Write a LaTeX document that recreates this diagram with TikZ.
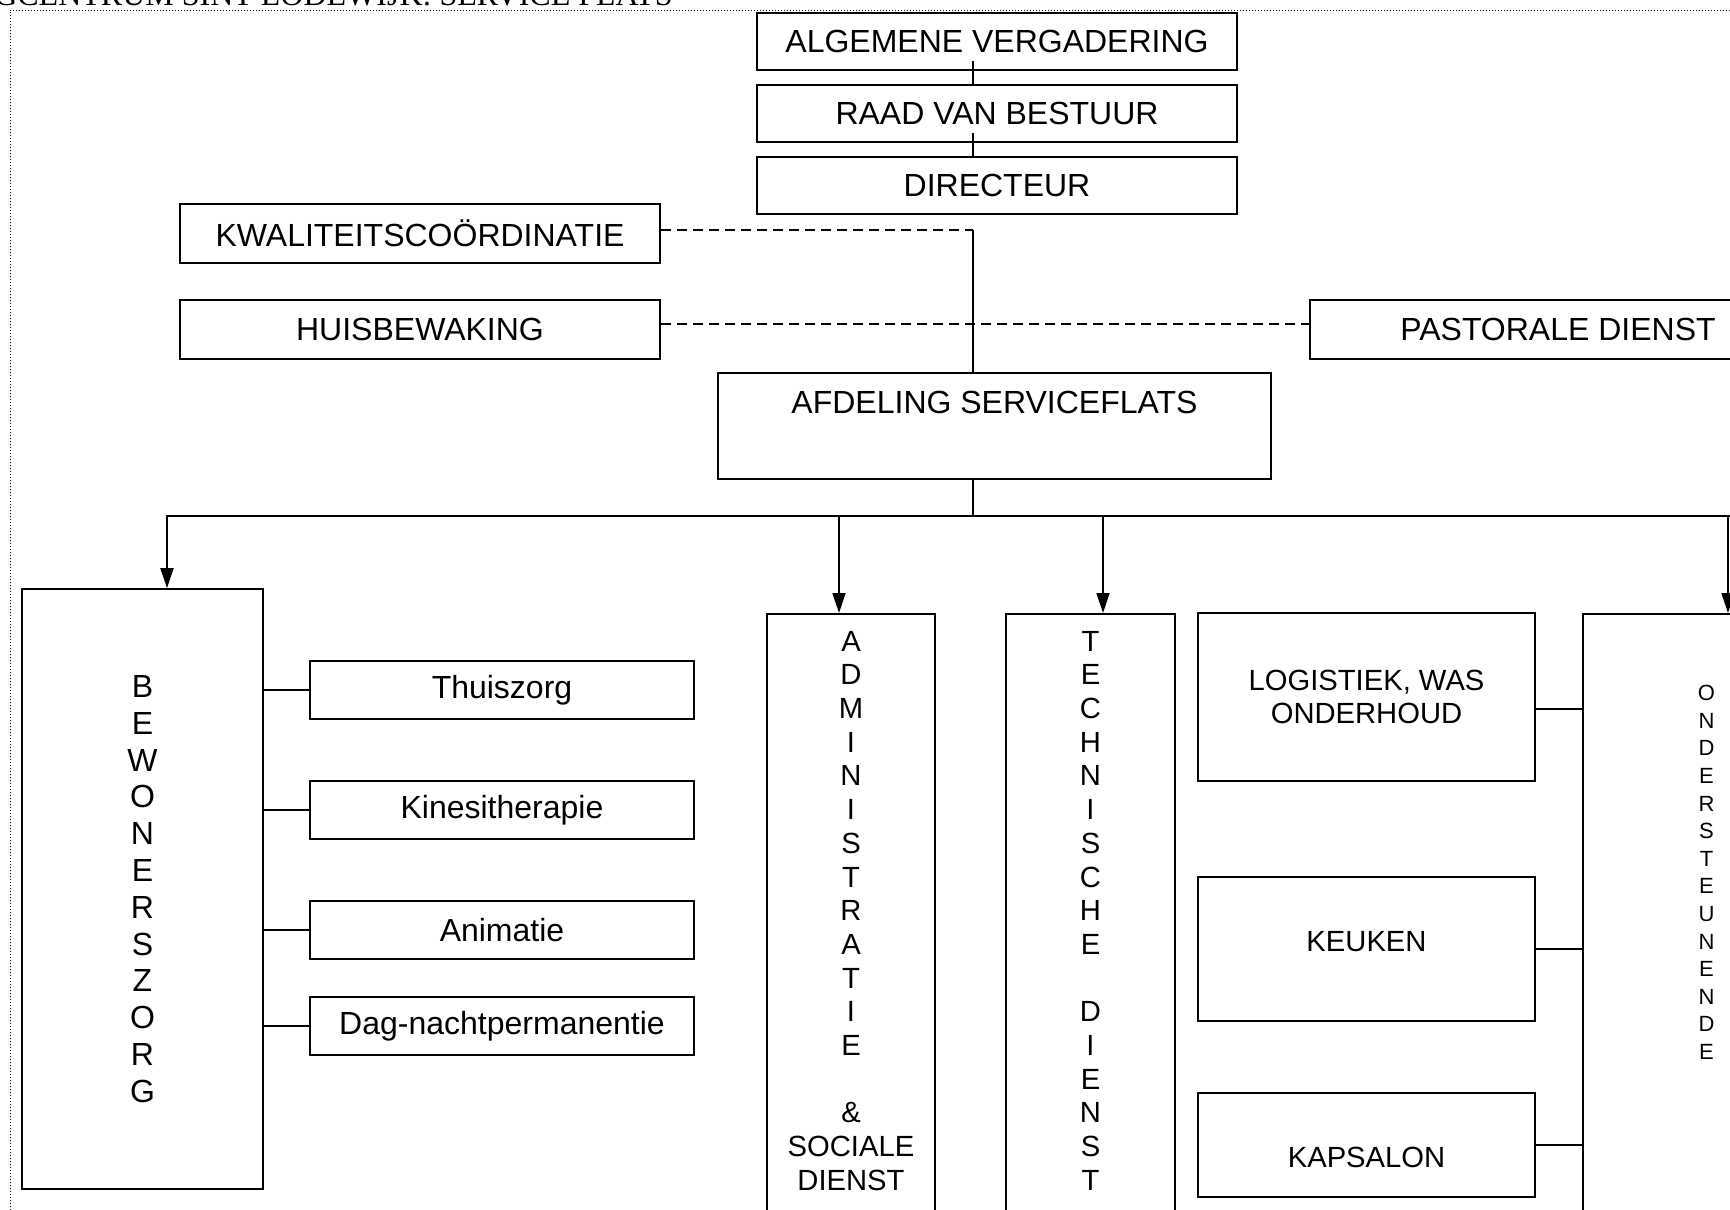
\documentclass[tikz,border=0pt]{standalone}
\usepackage{fontspec}
\setmainfont{Liberation Sans}
\newfontfamily\titlefont{Liberation Serif}
\usetikzlibrary{arrows.meta}

\begin{document}
\begin{tikzpicture}[x=0.5pt, y=-0.5pt,
  box/.style={draw, line width=0.9pt, inner sep=0pt, align=center, font=\fontsize{16}{18.4}\selectfont},
  small/.style={font=\fontsize{14.6}{16.85}\selectfont},
  vtext/.style={anchor=north, align=center, inner sep=0pt},
  link/.style={line width=0.9pt},
  dashlink/.style={line width=1pt, dash pattern=on 5pt off 3pt},
  arr/.style={line width=0.9pt, -{Triangle[length=10pt, width=6.5pt]}},
  frame/.style={line width=0.5pt, dash pattern=on 0.6pt off 0.9pt}]
\useasboundingbox (0, 0) rectangle (1730, 1210);
\clip (0, 0) rectangle (1730, 1210);

% title and frame, cut by the page
\node [anchor=base east, inner sep=0pt, font=\titlefont\fontsize{16}{19}\selectfont] (title) at (673, 5) {WOONZORGCENTRUM SINT LODEWIJK: SERVICE FLATS};
\draw [frame](10, 1210) -- (10, 10) -- (1730, 10);

% top
\node [box, minimum width=240pt, minimum height=28.5pt] (alg) at (997, 41.5) {ALGEMENE VERGADERING};
\node [box, minimum width=240pt, minimum height=28.5pt] (raad) at (997, 113.5) {RAAD VAN BESTUUR};
\node [box, minimum width=240pt, minimum height=28.5pt] (dir) at (997, 185.5) {DIRECTEUR};
\node [box, minimum width=240pt, minimum height=29.5pt] (kwal) at (420, 233.5) {KWALITEITSCOÖRDINATIE};
\node [box, minimum width=240pt, minimum height=29.5pt] (huis) at (420, 329.5) {HUISBEWAKING};
\node [box, minimum width=248pt, minimum height=29.5pt] (past) at (1558, 329.5) {PASTORALE DIENST};
\node [box, minimum width=276.5pt, text height=20.2pt, text depth=32.8pt] (afd) at (994.5, 426) {AFDELING SERVICEFLATS};

\coordinate (spine) at (973, 229.5);
\draw [link](alg.south -| spine) ++(0, -10) -- (raad.north -| spine);
\draw [link](raad.south -| spine) ++(0, -10) -- (dir.north -| spine);
\draw [dashlink](kwal.east |- spine) -- (spine);
\draw [link](spine) -- (afd.north -| spine);
\coordinate (huis-c) at ([yshift=2.75pt]huis.east);
\draw [dashlink](huis-c) -- (huis-c -| past.west);

% departments
\node [box, minimum width=120.5pt, minimum height=300pt] (bew) at (142.5, 889) {B\\E\\W\\O\\N\\E\\R\\S\\Z\\O\\R\\G};
\node [box, anchor=north, minimum width=84pt, minimum height=320pt] (adm) at (851, 613) {};
\node [vtext, small] (adm-t) at ([yshift=-8.8pt]adm.north) {A\\D\\M\\I\\N\\I\\S\\T\\R\\A\\T\\I\\E\\ \\\&\\SOCIALE\\DIENST};
\node [box, anchor=north, minimum width=84.5pt, minimum height=320pt] (tech) at (1090.5, 613) {};
\node [vtext, small] (tech-t) at ([yshift=-8.8pt]tech.north) {T\\E\\C\\H\\N\\I\\S\\C\\H\\E\\ \\D\\I\\E\\N\\S\\T};
\node [box, anchor=north, minimum width=123.5pt, minimum height=320pt] (ond) at (1706.5, 613) {};
\node [vtext, font=\fontsize{11}{13.8}\selectfont] (ond-t) at ([yshift=-36pt]ond.north) {O\\N\\D\\E\\R\\S\\T\\E\\U\\N\\E\\N\\D\\E};

\coordinate (bus) at (973, 516);
\coordinate (bus-bew) at (167, 516);
\coordinate (bus-adm) at (839, 516);
\coordinate (bus-tech) at (1103, 516);
\coordinate (bus-ond) at (1728, 516);
\coordinate (bus-end) at (1730, 516);
\draw [link](afd.south -| spine) -- (bus);
\draw [arr](bus-end) -- (bus-bew) -- (bus-bew |- bew.north);
\draw [arr](bus-adm) -- (bus-adm |- adm.north);
\draw [arr](bus-tech) -- (bus-tech |- tech.north);
\draw [arr](bus-ond) -- (bus-ond |- ond.north);

% bewonerszorg
\node [box, minimum width=192pt, minimum height=29pt] (thuis) at (502, 690) {Thuiszorg};
\node [box, minimum width=192pt, minimum height=29pt] (kine) at (502, 810) {Kinesitherapie};
\node [box, minimum width=192pt, minimum height=29pt] (anim) at (502, 930) {Animatie};
\node [box, minimum width=192pt, minimum height=29pt] (dag) at (502, 1026) {Dag-nachtpermanentie};
\foreach \s in {thuis, kine, anim, dag}
  \draw [link](\s.west) -- (\s.west -| bew.east);

% ondersteunende diensten
\node [box, small, minimum width=168.5pt, minimum height=84pt] (log) at (1366.5, 697) {LOGISTIEK, WAS\\ONDERHOUD};
\node [box, small, minimum width=168.5pt, text height=37.2pt, text depth=34.8pt] (keu) at (1366.5, 949) {KEUKEN};
\node [box, small, minimum width=168.5pt, text height=37.2pt, text depth=14.8pt] (kap) at (1366.5, 1145) {KAPSALON};
\coordinate (log-c) at ([yshift=-6pt]log.east);
\draw [link](log-c) -- (log-c -| ond.west);
\foreach \s in {keu, kap}
  \draw [link](\s.east) -- (\s.east -| ond.west);
\end{tikzpicture}
\end{document}
